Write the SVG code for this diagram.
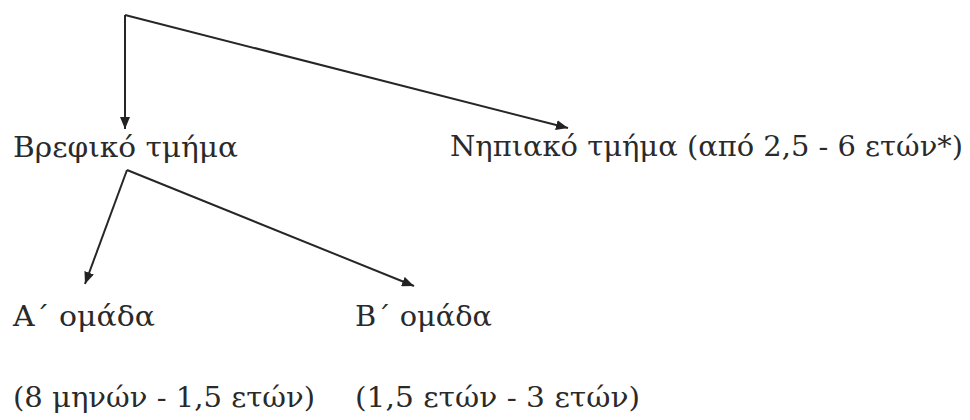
<svg xmlns="http://www.w3.org/2000/svg" width="970" height="420" viewBox="0 0 970 420">
  <defs>
    <marker id="ah" viewBox="0 0 12 10" refX="12" refY="5" markerWidth="12" markerHeight="10" markerUnits="userSpaceOnUse" orient="auto">
      <path d="M0,0 L12,5 L0,10 Z" fill="#222"/>
    </marker>
    <style>
      .t { font-family: "DejaVu Serif", "Liberation Serif", serif; font-size: 28px; fill: #2a2a2a; }
      .c { fill: none; stroke: #262626; stroke-width: 2; }
    </style>
  </defs>
  <rect width="970" height="420" fill="#ffffff"/>
  <g id="connectors">
    <path class="c" d="M125,15 L125,129" marker-end="url(#ah)"/>
    <path class="c" d="M125,15 L568,128" marker-end="url(#ah)"/>
    <path class="c" d="M127,170 L85,284" marker-end="url(#ah)"/>
    <path class="c" d="M127,170 L414,286" marker-end="url(#ah)"/>
  </g>
  <g id="vrefiko">
    <text class="t" x="13" y="157" textLength="225" lengthAdjust="spacingAndGlyphs">Βρεφικό τμήμα</text>
  </g>
  <g id="nipiako">
    <text class="t" x="450" y="156" textLength="513" lengthAdjust="spacingAndGlyphs">Νηπιακό τμήμα (από 2,5 - 6 ετών*)</text>
  </g>
  <g id="omada-a">
    <text class="t" x="13" y="326" textLength="142" lengthAdjust="spacingAndGlyphs">Α΄ ομάδα</text>
    <text class="t" x="13" y="407" textLength="302" lengthAdjust="spacingAndGlyphs">(8 μηνών - 1,5 ετών)</text>
  </g>
  <g id="omada-b">
    <text class="t" x="355" y="326" textLength="137" lengthAdjust="spacingAndGlyphs">Β΄ ομάδα</text>
    <text class="t" x="355" y="407" textLength="285" lengthAdjust="spacingAndGlyphs">(1,5 ετών - 3 ετών)</text>
  </g>
</svg>
